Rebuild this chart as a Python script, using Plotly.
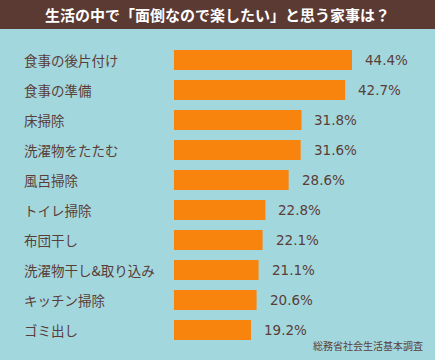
import plotly.graph_objects as go

categories = ["食事の後片付け", "食事の準備", "床掃除", "洗濯物をたたむ", "風呂掃除",
              "トイレ掃除", "布団干し", "洗濯物干し&取り込み", "キッチン掃除", "ゴミ出し"]
values = [44.4, 42.7, 31.8, 31.6, 28.6, 22.8, 22.1, 21.1, 20.6, 19.2]
value_labels = ["44.4%", "42.7%", "31.8%", "31.6%", "28.6%", "22.8%", "22.1%", "21.1%", "20.6%", "19.2%"]
title_text = "生活の中で「面倒なので楽したい」と思う家事は？"
source_text = "総務省社会生活基本調査"

W, H = 435, 360
L, R, T, B = 174, 0, 45, 15
pw, ph = W - L - R, H - T - B
px_per_unit = 4.009

BG = "#a3d7de"
BROWN = "#5b3a33"
TXT = "#5a3d37"
ORANGE = "#f8830d"
JP = "Noto Sans CJK JP"

fig = go.Figure(go.Bar(
    x=values, y=categories, orientation="h",
    marker=dict(color=ORANGE, line=dict(width=0)),
    width=20 / 30, hoverinfo="skip",
))

ann = []
for c, v, t in zip(categories, values, value_labels):
    ann.append(dict(x=0, xref="paper", y=c, yref="y", text=c, showarrow=False,
                    xanchor="left", yanchor="middle", xshift=-(L - 22),
                    font=dict(family=JP, size=13.5, color=TXT)))
    ann.append(dict(x=v, xref="x", y=c, yref="y", text=t, showarrow=False,
                    xanchor="left", yanchor="middle", xshift=11,
                    font=dict(family="DejaVu Sans", size=13.5, color=TXT)))

ann.append(dict(x=(W / 2 - L) / pw, xref="paper", y=1 + (T - 15) / ph, yref="paper",
                text="<b>" + title_text + "</b>",
                showarrow=False, xanchor="center", yanchor="middle",
                font=dict(family=JP, size=15, color="white")))
ann.append(dict(x=(425 - L) / pw, xref="paper", y=-(345 - T - ph) / ph, yref="paper", text=source_text,
                showarrow=False, xanchor="right", yanchor="middle",
                font=dict(family=JP, size=10, color=TXT)))

fig.update_layout(
    width=W, height=H,
    margin=dict(l=L, r=R, t=T, b=B, pad=0),
    paper_bgcolor=BG, plot_bgcolor=BG,
    showlegend=False,
    xaxis=dict(range=[0, pw / px_per_unit], visible=False, fixedrange=True),
    yaxis=dict(showticklabels=False, showgrid=False, zeroline=False,
               range=[9.5, -0.5], autorange=False, fixedrange=True),
    annotations=ann,
    shapes=[dict(type="rect", xref="paper", yref="paper",
                 x0=-L / pw, x1=1 + R / pw, y0=1 + (T - 29) / ph, y1=1 + T / ph,
                 fillcolor=BROWN, line=dict(width=0), layer="below")],
)

fig.write_html("out.html", config={"displayModeBar": False},
               post_script="document.body.style.margin='0';document.body.style.overflow='hidden';")
